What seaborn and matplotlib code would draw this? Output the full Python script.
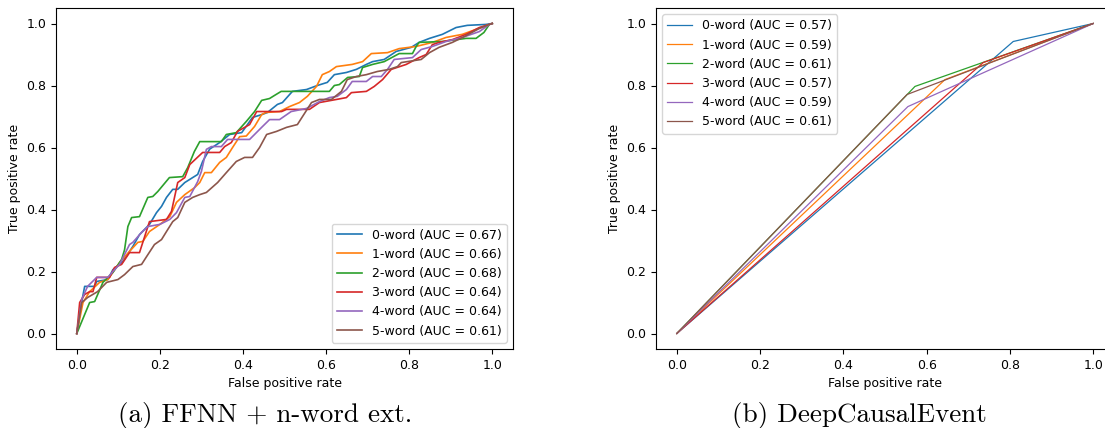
import pandas as pd
import seaborn as sns
import matplotlib.pyplot as plt

# --- ROC data ---

labels_a = ["0-word (AUC = 0.67)", "1-word (AUC = 0.66)", "2-word (AUC = 0.68)",
            "3-word (AUC = 0.64)", "4-word (AUC = 0.64)", "5-word (AUC = 0.61)"]
labels_b = ["0-word (AUC = 0.57)", "1-word (AUC = 0.59)", "2-word (AUC = 0.61)",
            "3-word (AUC = 0.57)", "4-word (AUC = 0.59)", "5-word (AUC = 0.61)"]

# (a) FFNN + n-word ext.
fpr_a0 = [0, 0.012, 0.019, 0.043, 0.048, 0.075, 0.087, 0.111, 0.135, 0.151, 0.175, 0.192,
          0.204, 0.216, 0.231, 0.243, 0.26, 0.279, 0.291, 0.303, 0.32, 0.344, 0.368, 0.397,
          0.423, 0.445, 0.459, 0.483, 0.495, 0.519, 0.553, 0.579, 0.603, 0.62, 0.649, 0.673,
          0.697, 0.712, 0.74, 0.769, 0.805, 0.824, 0.849, 0.88, 0.913, 0.94, 0.985, 1.0]
tpr_a0 = [0, 0.103, 0.152, 0.152, 0.168, 0.174, 0.206, 0.232, 0.281, 0.319, 0.352, 0.39,
          0.41, 0.439, 0.465, 0.465, 0.487, 0.503, 0.513, 0.555, 0.595, 0.616, 0.642, 0.648,
          0.697, 0.706, 0.713, 0.739, 0.745, 0.781, 0.787, 0.80, 0.81, 0.835, 0.842, 0.852,
          0.868, 0.877, 0.884, 0.91, 0.923, 0.939, 0.952, 0.965, 0.987, 0.994, 0.997, 1.0]

fpr_a1 = [0, 0.015, 0.031, 0.055, 0.075, 0.103, 0.127, 0.147, 0.159, 0.175, 0.2, 0.224,
          0.24, 0.26, 0.284, 0.296, 0.308, 0.324, 0.344, 0.36, 0.375, 0.392, 0.408, 0.428,
          0.445, 0.455, 0.488, 0.512, 0.536, 0.555, 0.577, 0.591, 0.608, 0.625, 0.663, 0.688,
          0.709, 0.748, 0.776, 0.817, 0.856, 0.889, 0.928, 0.961, 0.993, 1.0]
tpr_a1 = [0, 0.10, 0.135, 0.165, 0.174, 0.229, 0.265, 0.294, 0.297, 0.329, 0.352, 0.377,
          0.423, 0.448, 0.471, 0.487, 0.519, 0.519, 0.552, 0.568, 0.60, 0.635, 0.637, 0.668,
          0.706, 0.713, 0.716, 0.732, 0.745, 0.765, 0.797, 0.835, 0.845, 0.861, 0.868, 0.877,
          0.903, 0.906, 0.919, 0.926, 0.939, 0.955, 0.965, 0.981, 0.997, 1.0]

fpr_a2 = [0, 0.031, 0.043, 0.063, 0.087, 0.108, 0.115, 0.123, 0.132, 0.151, 0.171, 0.183,
          0.195, 0.223, 0.255, 0.267, 0.283, 0.296, 0.348, 0.36, 0.384, 0.408, 0.428, 0.445,
          0.464, 0.476, 0.492, 0.608, 0.62, 0.632, 0.652, 0.68, 0.688, 0.712, 0.74, 0.776,
          0.808, 0.817, 0.824, 0.88, 0.937, 0.961, 0.98, 0.993, 1.0]
tpr_a2 = [0, 0.10, 0.103, 0.165, 0.197, 0.239, 0.27, 0.345, 0.374, 0.377, 0.439, 0.442,
          0.458, 0.503, 0.506, 0.535, 0.587, 0.619, 0.619, 0.642, 0.648, 0.684, 0.716, 0.752,
          0.758, 0.768, 0.781, 0.781, 0.80, 0.803, 0.826, 0.829, 0.858, 0.868, 0.877, 0.903,
          0.903, 0.926, 0.939, 0.942, 0.952, 0.952, 0.971, 0.997, 1.0]

fpr_a3 = [0, 0.007, 0.019, 0.031, 0.039, 0.048, 0.079, 0.091, 0.108, 0.127, 0.151, 0.175,
          0.216, 0.228, 0.243, 0.26, 0.272, 0.303, 0.344, 0.356, 0.372, 0.387, 0.416, 0.433,
          0.493, 0.505, 0.56, 0.584, 0.625, 0.649, 0.661, 0.697, 0.716, 0.736, 0.757, 0.793,
          0.824, 0.841, 0.856, 0.872, 0.904, 0.937, 0.969, 0.993, 1.0]
tpr_a3 = [0, 0.10, 0.126, 0.135, 0.135, 0.181, 0.181, 0.213, 0.223, 0.261, 0.261, 0.361,
          0.368, 0.394, 0.487, 0.503, 0.545, 0.584, 0.584, 0.603, 0.616, 0.652, 0.674, 0.716,
          0.716, 0.723, 0.723, 0.745, 0.755, 0.761, 0.777, 0.781, 0.797, 0.819, 0.852, 0.868,
          0.89, 0.90, 0.932, 0.939, 0.948, 0.965, 0.987, 0.997, 1.0]

fpr_a4 = [0, 0.012, 0.026, 0.048, 0.075, 0.087, 0.103, 0.127, 0.135, 0.156, 0.171, 0.2,
          0.224, 0.24, 0.26, 0.272, 0.291, 0.3, 0.312, 0.324, 0.348, 0.363, 0.416, 0.445,
          0.464, 0.488, 0.516, 0.553, 0.584, 0.608, 0.627, 0.649, 0.663, 0.697, 0.712, 0.733,
          0.748, 0.764, 0.808, 0.829, 0.856, 0.889, 0.928, 0.969, 0.993, 1.0]
tpr_a4 = [0, 0.11, 0.152, 0.181, 0.181, 0.2, 0.223, 0.287, 0.294, 0.326, 0.345, 0.352,
          0.368, 0.39, 0.439, 0.442, 0.49, 0.523, 0.594, 0.603, 0.603, 0.626, 0.626, 0.665,
          0.69, 0.69, 0.716, 0.726, 0.748, 0.761, 0.765, 0.787, 0.813, 0.813, 0.829, 0.829,
          0.852, 0.884, 0.89, 0.916, 0.926, 0.942, 0.955, 0.974, 0.997, 1.0]

fpr_a5 = [0, 0.012, 0.026, 0.05, 0.072, 0.099, 0.115, 0.135, 0.156, 0.168, 0.187, 0.204,
          0.216, 0.231, 0.243, 0.26, 0.279, 0.296, 0.312, 0.339, 0.36, 0.384, 0.404, 0.423,
          0.44, 0.457, 0.481, 0.505, 0.531, 0.565, 0.584, 0.613, 0.637, 0.651, 0.673, 0.697,
          0.723, 0.752, 0.772, 0.781, 0.829, 0.849, 0.872, 0.904, 0.933, 0.969, 0.993, 1.0]
tpr_a5 = [0, 0.10, 0.116, 0.135, 0.165, 0.174, 0.19, 0.216, 0.223, 0.248, 0.287, 0.303,
          0.329, 0.361, 0.374, 0.423, 0.439, 0.448, 0.455, 0.487, 0.519, 0.555, 0.568, 0.568,
          0.6, 0.642, 0.652, 0.665, 0.674, 0.745, 0.755, 0.755, 0.781, 0.819, 0.829, 0.835,
          0.845, 0.852, 0.861, 0.874, 0.884, 0.906, 0.923, 0.939, 0.958, 0.984, 0.997, 1.0]

# (b) DeepCausalEvent: one threshold point per curve
fpr_b = [[0, 0.808, 1], [0, 0.644, 1], [0, 0.572, 1],
         [0, 0.736, 1], [0, 0.555, 1], [0, 0.553, 1]]
tpr_b = [[0, 0.942, 1], [0, 0.819, 1], [0, 0.797, 1],
         [0, 0.874, 1], [0, 0.732, 1], [0, 0.771, 1]]

fpr_a = [fpr_a0, fpr_a1, fpr_a2, fpr_a3, fpr_a4, fpr_a5]
tpr_a = [tpr_a0, tpr_a1, tpr_a2, tpr_a3, tpr_a4, tpr_a5]


def to_long(labels, fprs, tprs):
    rows = []
    for lab, xs, ys in zip(labels, fprs, tprs):
        for x, y in zip(xs, ys):
            rows.append({"curve": lab, "fpr": x, "tpr": y})
    return pd.DataFrame(rows)


df_a = to_long(labels_a, fpr_a, tpr_a)
df_b = to_long(labels_b, fpr_b, tpr_b)

fig = plt.figure(figsize=(11.05, 4.28), dpi=100)
ax_a = fig.add_axes([56 / 1105, 79 / 428, 457 / 1105, 341 / 428])
ax_b = fig.add_axes([656 / 1105, 79 / 428, 458 / 1105, 341 / 428])

pal = sns.color_palette("tab10", 6)

sns.lineplot(data=df_a, x="fpr", y="tpr", hue="curve", palette=pal, sort=False,
             estimator=None, linewidth=1.2, ax=ax_a)
sns.lineplot(data=df_b, x="fpr", y="tpr", hue="curve", palette=pal, sort=False,
             estimator=None, linewidth=0.9, ax=ax_b)

for ax, loc in [(ax_a, "lower right"), (ax_b, "upper left")]:
    ax.set_xlim(-0.05, 1.05)
    ax.set_ylim(-0.05, 1.05)
    ax.set_xticks([0, 0.2, 0.4, 0.6, 0.8, 1.0])
    ax.set_yticks([0, 0.2, 0.4, 0.6, 0.8, 1.0])
    ax.tick_params(labelsize=9)
    ax.set_xlabel("False positive rate", fontsize=9)
    ax.set_ylabel("True positive rate", fontsize=9)
    sns.move_legend(ax, loc, title=None, fontsize=9)

fig.text(265 / 1105, 6 / 428, "(a) FFNN + n-word ext.", family="cmr10",
         fontsize=19.5, ha="center", va="baseline")
fig.text(859 / 1105, 6 / 428, "(b) DeepCausalEvent", family="cmr10",
         fontsize=19.5, ha="center", va="baseline")

fig.savefig("out.png", dpi=100)
